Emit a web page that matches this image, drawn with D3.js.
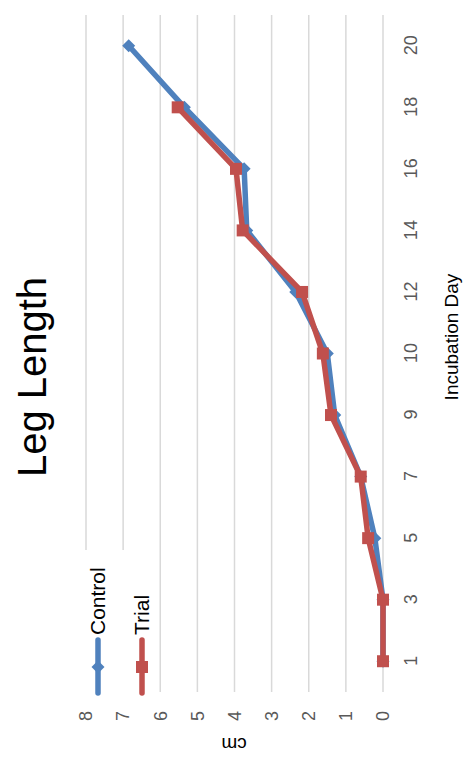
<!DOCTYPE html>
<html>
<head>
<meta charset="utf-8">
<script src="https://cdn.jsdelivr.net/npm/d3@7"></script>
<style>
  html, body { margin: 0; padding: 0; background: #fff; }
  svg { display: block; font-family: "Liberation Sans", Arial, sans-serif; }
</style>
</head>
<body>
<svg id="chart" width="469" height="764"></svg>
<script>
// Incubation day categories and leg length (cm) per series
const days = ["1", "3", "5", "7", "9", "10", "12", "14", "16", "18", "20"];
const controlValues = [0, 0, 0.22, 0.6, 1.3, 1.5, 2.35, 3.67, 3.74, 5.35, 6.85];
const trialValues = [0, 0, 0.4, 0.6, 1.4, 1.62, 2.18, 3.78, 3.96, 5.53, null];
const valueTicks = [0, 1, 2, 3, 4, 5, 6, 7, 8];

const seriesList = [
  { name: "Control", values: controlValues, color: "#4F81BD", marker: "diamond" },
  { name: "Trial", values: trialValues, color: "#C0504D", marker: "square" }
];

const svg = d3.select("#chart");
// The whole chart is laid out landscape, then turned a quarter-turn counter-clockwise
const g = svg.append("g").attr("transform", "translate(0,764) rotate(-90)");

const x = d3.scalePoint().domain(days).range([72, 749]).padding(0.5);
const y = d3.scaleLinear().domain([0, 8]).range([383, 86]);

// Horizontal gridlines
g.append("g").selectAll("line").data(valueTicks).join("line")
  .attr("x1", 72).attr("x2", 749)
  .attr("y1", d => y(d)).attr("y2", d => y(d))
  .attr("stroke", "#d9d9d9").attr("stroke-width", 1.5);

// Value axis labels
const yAxis = d3.axisLeft(y).tickValues(valueTicks).tickSize(0).tickPadding(0);
const ya = g.append("g").attr("transform", "translate(53,0)").call(yAxis);
ya.select(".domain").remove();
ya.selectAll("text").attr("font-size", 18).attr("fill", "#595959")
  .attr("font-family", "Liberation Sans, Arial, sans-serif");

// Category axis labels
const xAxis = d3.axisBottom(x).tickSize(0).tickPadding(0);
const xa = g.append("g").attr("transform", "translate(0,404)").call(xAxis);
xa.select(".domain").remove();
xa.selectAll("text").attr("font-size", 18).attr("fill", "#595959")
  .attr("font-family", "Liberation Sans, Arial, sans-serif");

// Lines and markers
const line = d3.line()
  .defined(d => d.v !== null)
  .x(d => x(d.day)).y(d => y(d.v));

const diamond = s => `M0,${-s}L${s},0L0,${s}L${-s},0Z`;
const square = s => `M${-s},${-s}H${s}V${s}H${-s}Z`;

seriesList.forEach(s => {
  const pts = days.map((day, i) => ({ day, v: s.values[i] }));
  g.append("path").datum(pts)
    .attr("d", line).attr("fill", "none")
    .attr("stroke", s.color).attr("stroke-width", 5.5)
    .attr("stroke-linejoin", "round");
  g.append("g").selectAll("path").data(pts.filter(d => d.v !== null)).join("path")
    .attr("transform", d => `translate(${x(d.day)},${y(d.v)})`)
    .attr("d", s.marker === "diamond" ? diamond(6.5) : square(6))
    .attr("fill", s.color);
});

// Legend (top-left of plot area, on white)
const legend = g.append("g");
legend.append("rect").attr("x", 64).attr("y", 76).attr("width", 150).attr("height", 80).attr("fill", "#fff");
seriesList.forEach((s, i) => {
  const cy = 98 + i * 44;
  legend.append("line").attr("x1", 71).attr("x2", 124).attr("y1", cy).attr("y2", cy)
    .attr("stroke", s.color).attr("stroke-width", 5.5).attr("stroke-linecap", "round");
  legend.append("path").attr("transform", `translate(97,${cy})`)
    .attr("d", s.marker === "diamond" ? diamond(6.5) : square(6)).attr("fill", s.color);
  legend.append("text").attr("x", 129).attr("y", cy).attr("dy", "0.35em")
    .attr("font-size", 21).attr("fill", "#000").text(s.name);
});

// Titles
g.append("text").attr("x", 387).attr("y", 46).attr("text-anchor", "middle")
  .attr("font-size", 40).attr("fill", "#000").text("Leg Length");
g.append("text").attr("x", 427).attr("y", 458).attr("text-anchor", "middle")
  .attr("font-size", 19).attr("fill", "#000").text("Incubation Day");
g.append("text").attr("transform", "translate(19,234) rotate(-90)").attr("dy", "0.35em")
  .attr("text-anchor", "middle").attr("font-size", 19).attr("fill", "#000").text("cm");
</script>
</body>
</html>
